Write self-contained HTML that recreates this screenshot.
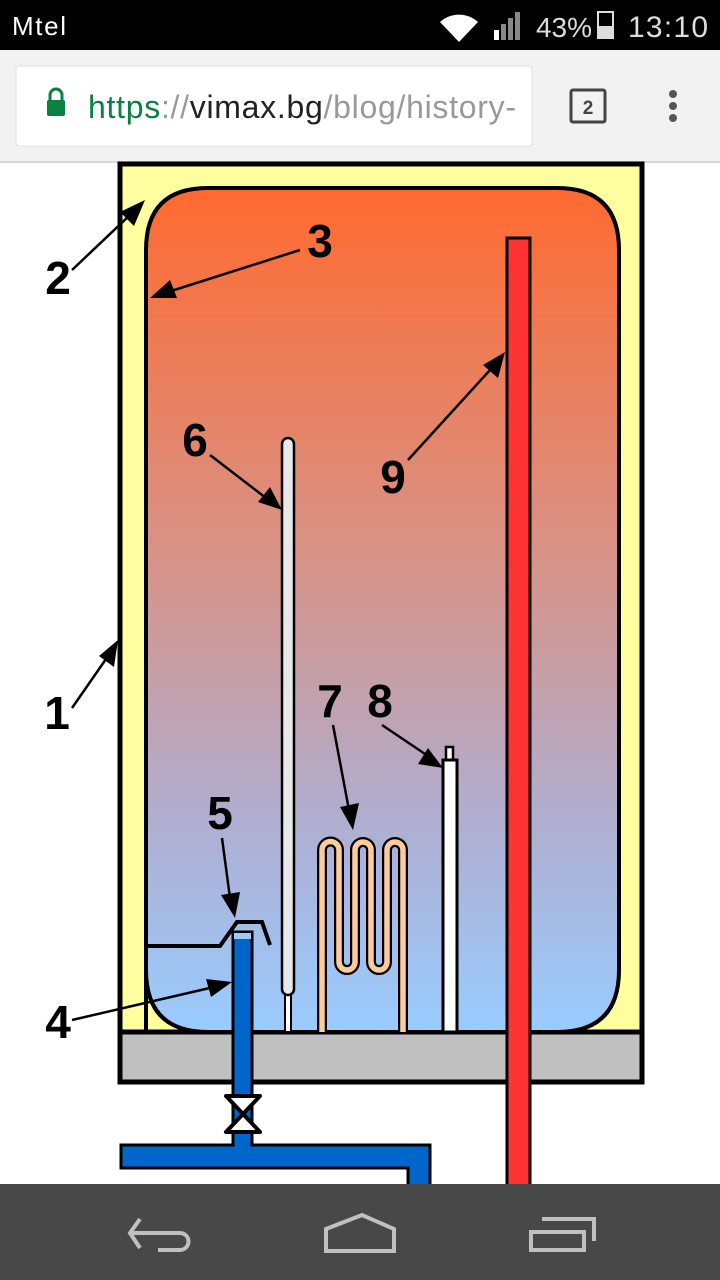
<!DOCTYPE html>
<html><head><meta charset="utf-8"><style>
html,body{margin:0;padding:0;width:720px;height:1280px;overflow:hidden;background:#fff}
svg{display:block}
</style></head><body>
<svg width="720" height="1280" viewBox="0 0 720 1280" xmlns="http://www.w3.org/2000/svg" font-family="Liberation Sans, sans-serif">
<defs>
<linearGradient id="g" x1="0" y1="0" x2="0" y2="1">
<stop offset="0" stop-color="#ff6a30"/>
<stop offset="0.45" stop-color="#d6948a"/>
<stop offset="0.75" stop-color="#b0aed0"/>
<stop offset="1" stop-color="#99ccff"/>
</linearGradient>
</defs>
<!-- status bar -->
<rect x="0" y="0" width="720" height="50" fill="#000"/>
<text x="12" y="35" fill="#fff" font-size="26" textLength="54">Mtel</text>
<path d="M440 22 A28 28 0 0 1 478 22 L459 42 Z" fill="#fff"/>
<rect x="494" y="30" width="5" height="10" fill="#fff"/><rect x="501" y="24" width="5" height="16" fill="#888"/><rect x="508" y="18" width="5" height="22" fill="#888"/><rect x="515" y="12" width="5" height="28" fill="#888"/>
<text x="536" y="37" fill="#ddd" font-size="28" textLength="56">43%</text>
<rect x="598" y="12" width="15" height="26" fill="none" stroke="#ddd" stroke-width="2"/><rect x="598" y="26" width="15" height="12" fill="#ddd"/>
<text x="628" y="37" fill="#ddd" font-size="30" textLength="80">13:10</text>
<!-- chrome bar -->
<rect x="0" y="50" width="720" height="112" fill="#f2f2f2"/>
<rect x="0" y="161" width="720" height="2" fill="#d8d8d8"/>
<rect x="16" y="66" width="516" height="80" rx="3" fill="#fff" stroke="#e0e0e0"/>
<rect x="47" y="100" width="18" height="16" rx="2" fill="#0b8043"/><path d="M50 101 V95 A6 6 0 0 1 62 95 V101" fill="none" stroke="#0b8043" stroke-width="3"/>
<text x="88" y="118" font-size="32" textLength="428"><tspan fill="#0b8043">https</tspan><tspan fill="#999">://</tspan><tspan fill="#222">vimax.bg</tspan><tspan fill="#999">/blog/history-</tspan></text>
<rect x="571" y="90" width="34" height="32" rx="2" fill="none" stroke="#444" stroke-width="3"/>
<text x="588" y="114" font-size="19" font-weight="bold" fill="#444" text-anchor="middle">2</text>
<circle cx="673" cy="94" r="4" fill="#555"/><circle cx="673" cy="106" r="4" fill="#555"/><circle cx="673" cy="118" r="4" fill="#555"/>
<!-- heater body -->
<rect x="120" y="164" width="522" height="918" fill="#ffff9f" stroke="#000" stroke-width="5"/>
<rect x="120" y="1032" width="522" height="50" fill="#c0c0c0" stroke="#000" stroke-width="5"/>
<path d="M146 1032 V250 Q146 188 208 188 H557 Q619 188 619 250 V970 Q619 1032 557 1032 H208 Q146 1032 146 970 Z" fill="url(#g)" stroke="#000" stroke-width="4"/>
<path d="M146 1032 H619" stroke="#000" stroke-width="4"/>
<path d="M147 946 H220 L237 922 H262 L270 945" fill="none" stroke="#000" stroke-width="4"/>
<rect x="507" y="238" width="23" height="960" fill="#ff3333" stroke="#000" stroke-width="3"/>
<path d="M233 932 V1145 H121 V1168 H408 V1200 H430 V1145 H252 V932 Z" fill="#0066cc" stroke="#000" stroke-width="3"/>
<rect x="234" y="933" width="17" height="6" fill="#99ccff"/>
<path d="M226 1096 H260 L226 1132 H260 Z" fill="#fff" stroke="#000" stroke-width="4" stroke-linejoin="round"/>
<rect x="285" y="990" width="6" height="42" fill="#fff" stroke="#000" stroke-width="2"/>
<rect x="282" y="438" width="12" height="557" rx="6" fill="#e8e8e8" stroke="#000" stroke-width="2.5"/>
<path d="M322 1032 V850 A8.5 8.5 0 0 1 339 850 V962 A8 8 0 0 0 355 962 V850 A8 8 0 0 1 371 850 V962 A8 8 0 0 0 387 962 V850 A8 8 0 0 1 403 850 V1032" fill="none" stroke="#000" stroke-width="10"/>
<path d="M322 1032 V850 A8.5 8.5 0 0 1 339 850 V962 A8 8 0 0 0 355 962 V850 A8 8 0 0 1 371 850 V962 A8 8 0 0 0 387 962 V850 A8 8 0 0 1 403 850 V1032" fill="none" stroke="#ffcc99" stroke-width="5.5"/>
<rect x="446" y="747" width="7" height="14" fill="#fff" stroke="#000" stroke-width="2.5"/>
<rect x="443" y="760" width="14" height="272" fill="#fff" stroke="#000" stroke-width="3"/>
<!-- arrows -->
<g stroke="#000" stroke-width="2.5" fill="none">
<line x1="72" y1="270" x2="130" y2="215"/>
<line x1="300" y1="250" x2="168" y2="292"/>
<line x1="210" y1="455" x2="266" y2="498"/>
<line x1="408" y1="460" x2="490" y2="370"/>
<line x1="72" y1="708" x2="106" y2="659"/>
<line x1="333" y1="725" x2="349" y2="810"/>
<line x1="382" y1="725" x2="428" y2="756"/>
<line x1="222" y1="838" x2="230" y2="898"/>
<line x1="72" y1="1020" x2="214" y2="987"/>
</g>
<g fill="#000">
<polygon points="145,200 134,226 120,212"/>
<polygon points="150,298 170,280 177,298"/>
<polygon points="282,510 258,502 270,487"/>
<polygon points="505,352 498,378 483,365"/>
<polygon points="118,640 114,667 99,656"/>
<polygon points="353,830 340,807 359,803"/>
<polygon points="443,768 418,764 428,748"/>
<polygon points="235,918 221,895 240,892"/>
<polygon points="232,982 211,997 206,979"/>
</g>
<g font-size="46" font-weight="bold" fill="#000" text-anchor="middle">
<text x="58" y="294">2</text>
<text x="320" y="257">3</text>
<text x="195" y="456">6</text>
<text x="393" y="493">9</text>
<text x="57" y="729">1</text>
<text x="330" y="717">7</text>
<text x="380" y="717">8</text>
<text x="220" y="829">5</text>
<text x="58" y="1038">4</text>
</g>
<!-- nav bar -->
<rect x="0" y="1184" width="720" height="96" fill="#484848"/>
<g fill="none" stroke="#c0c0c0" stroke-width="4">
<path d="M140 1219 L130 1233 L140 1248 M130 1233 H180 A8 8 0 0 1 180 1250 H158"/>
<path d="M326 1251 V1229 L362 1215 L394 1229 V1251 Z"/>
<path d="M531 1232 H584 V1250 H531 Z M542 1219 H594 V1241"/>
</g>
</svg>
</body></html>
